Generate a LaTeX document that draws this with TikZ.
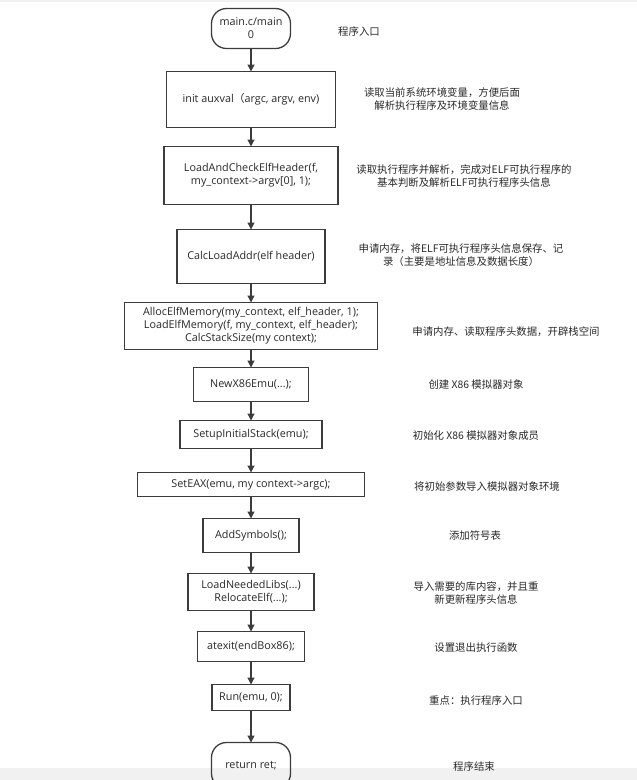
\documentclass[tikz,border=0pt]{standalone}
\usepackage{fontspec}
\setmainfont{Noto Sans CJK SC}
\newfontfamily\codefont{Open Sans}
\newfontfamily\cjk{Noto Sans CJK SC}
\definecolor{boxline}{RGB}{60, 60, 60}
\definecolor{boxtext}{RGB}{40, 40, 40}
\definecolor{bandgray}{RGB}{241, 241, 241}
\usetikzlibrary{arrows.meta, positioning}
\tikzset{
	stepbox/.style={rectangle, draw=boxline, fill=white, line width=1.3pt, outer sep=0pt, align=center, inner sep=2pt, text=boxtext, font=\codefont\fontsize{10.8}{13}\selectfont},
	term/.style={stepbox, rounded corners=15pt, minimum width=79pt},
	note/.style={align=center, text=boxtext, font=\fontsize{10.4}{13}\selectfont},
	arrow/.style={-{Triangle[length=7pt, width=7pt]}, line width=1.3pt, draw=boxline},
}
\begin{document}
\begin{tikzpicture}
		\useasboundingbox (0,0) rectangle (637pt,-780pt);
		\fill[bandgray] (0,-768pt) rectangle (637pt,-780pt);
		\fill[bandgray] (0,0) rectangle (637pt,-1.5pt);
		% main flow
		\node[term, minimum height=40pt] (main) at (251pt,-28.5pt) {main.c/main\\0};
		\node[stepbox, below=23pt of main, minimum width=169pt, minimum height=56pt] (init) {init auxval{\cjk （}argc, argv, env)};
		\node[stepbox, below=19pt of init, minimum width=174pt, minimum height=58pt] (check) {LoadAndCheckElfHeader(f,\\my\_context->argv[0], 1);};
		\node[stepbox, below=25pt of check, minimum width=148pt, minimum height=54pt] (calc) {CalcLoadAddr(elf header)};
		\node[stepbox, below=19pt of calc, minimum width=253pt, minimum height=47pt] (alloc) {AllocElfMemory(my\_context, elf\_header, 1);\\LoadElfMemory(f, my\_context, elf\_header);\\CalcStackSize(my context);};
		\node[stepbox, below=18pt of alloc, minimum width=115pt, minimum height=34pt] (newemu) {NewX86Emu(...);};
		\node[stepbox, below=19pt of newemu, minimum width=142pt, minimum height=28pt] (setup) {SetupInitialStack(emu);};
		\node[stepbox, below=24pt of setup, minimum width=227pt, minimum height=24pt] (seteax) {SetEAX(emu, my context->argc);};
		\node[stepbox, below=22pt of seteax, minimum width=96pt, minimum height=34pt] (addsym) {AddSymbols();};
		\node[stepbox, below=21pt of addsym, minimum width=126pt, minimum height=37pt] (libs) {LoadNeededLibs(...)\\RelocateElf(...);};
		\node[stepbox, below=21pt of libs, minimum width=107pt, minimum height=30pt] (atexit) {atexit(endBox86);};
		\node[stepbox, below=23pt of atexit, minimum width=78pt, minimum height=26pt] (run) {Run(emu, 0);};
		\node[term, below=32pt of run, minimum height=46pt, fill=none] (ret) {return ret;};
		% notes
		\node[note] (mainnote) at ([xshift=108pt, yshift=-3pt]main.center) {程序入口};
		\node[note] (initnote) at ([xshift=191pt]init.center) {读取当前系统环境变量，方便后面\\解析执行程序及环境变量信息};
		\node[note] (checknote) at ([xshift=213pt, yshift=-1pt]check.center) {读取执行程序并解析，完成对ELF可执行程序的\\基本判断及解析ELF可执行程序头信息};
		\node[note] (calcnote) at ([xshift=210pt, yshift=1pt]calc.center) {申请内存，将ELF可执行程序头信息保存、记\\录（主要是地址信息及数据长度）};
		\node[note] (allocnote) at ([xshift=255pt, yshift=-6pt]alloc.center) {申请内存、读取程序头数据，开辟栈空间};
		\node[note] (newnote) at ([xshift=225pt]newemu.center) {创建 X86 模拟器对象};
		\node[note] (setupnote) at ([xshift=225pt, yshift=-1pt]setup.center) {初始化 X86 模拟器对象成员};
		\node[note] (eaxnote) at ([xshift=236pt, yshift=-2pt]seteax.center) {将初始参数导入模拟器对象环境};
		\node[note] (addnote) at ([xshift=224pt]addsym.center) {添加符号表};
		\node[note] (libsnote) at ([xshift=225pt, yshift=-1pt]libs.center) {导入需要的库内容，并且重\\新更新程序头信息};
		\node[note] (atexitnote) at ([xshift=225pt, yshift=-1pt]atexit.center) {设置退出执行函数};
		\node[note] (runnote) at ([xshift=225pt, yshift=-3pt]run.center) {重点：执行程序入口};
		\node[note] (retnote) at ([xshift=223pt, yshift=-1pt]ret.center) {程序结束};
		% connectors
		\draw[arrow] (main) -- (init);
		\draw[arrow] (init) -- (check);
		\draw[arrow] (check) -- (calc);
		\draw[arrow] (calc) -- (alloc);
		\draw[arrow] (alloc) -- (newemu);
		\draw[arrow] (newemu) -- (setup);
		\draw[arrow] (setup) -- (seteax);
		\draw[arrow] (seteax) -- (addsym);
		\draw[arrow] (addsym) -- (libs);
		\draw[arrow] (libs) -- (atexit);
		\draw[arrow] (atexit) -- (run);
		\draw[arrow] (run) -- (ret);
	\end{tikzpicture}
\end{document}
